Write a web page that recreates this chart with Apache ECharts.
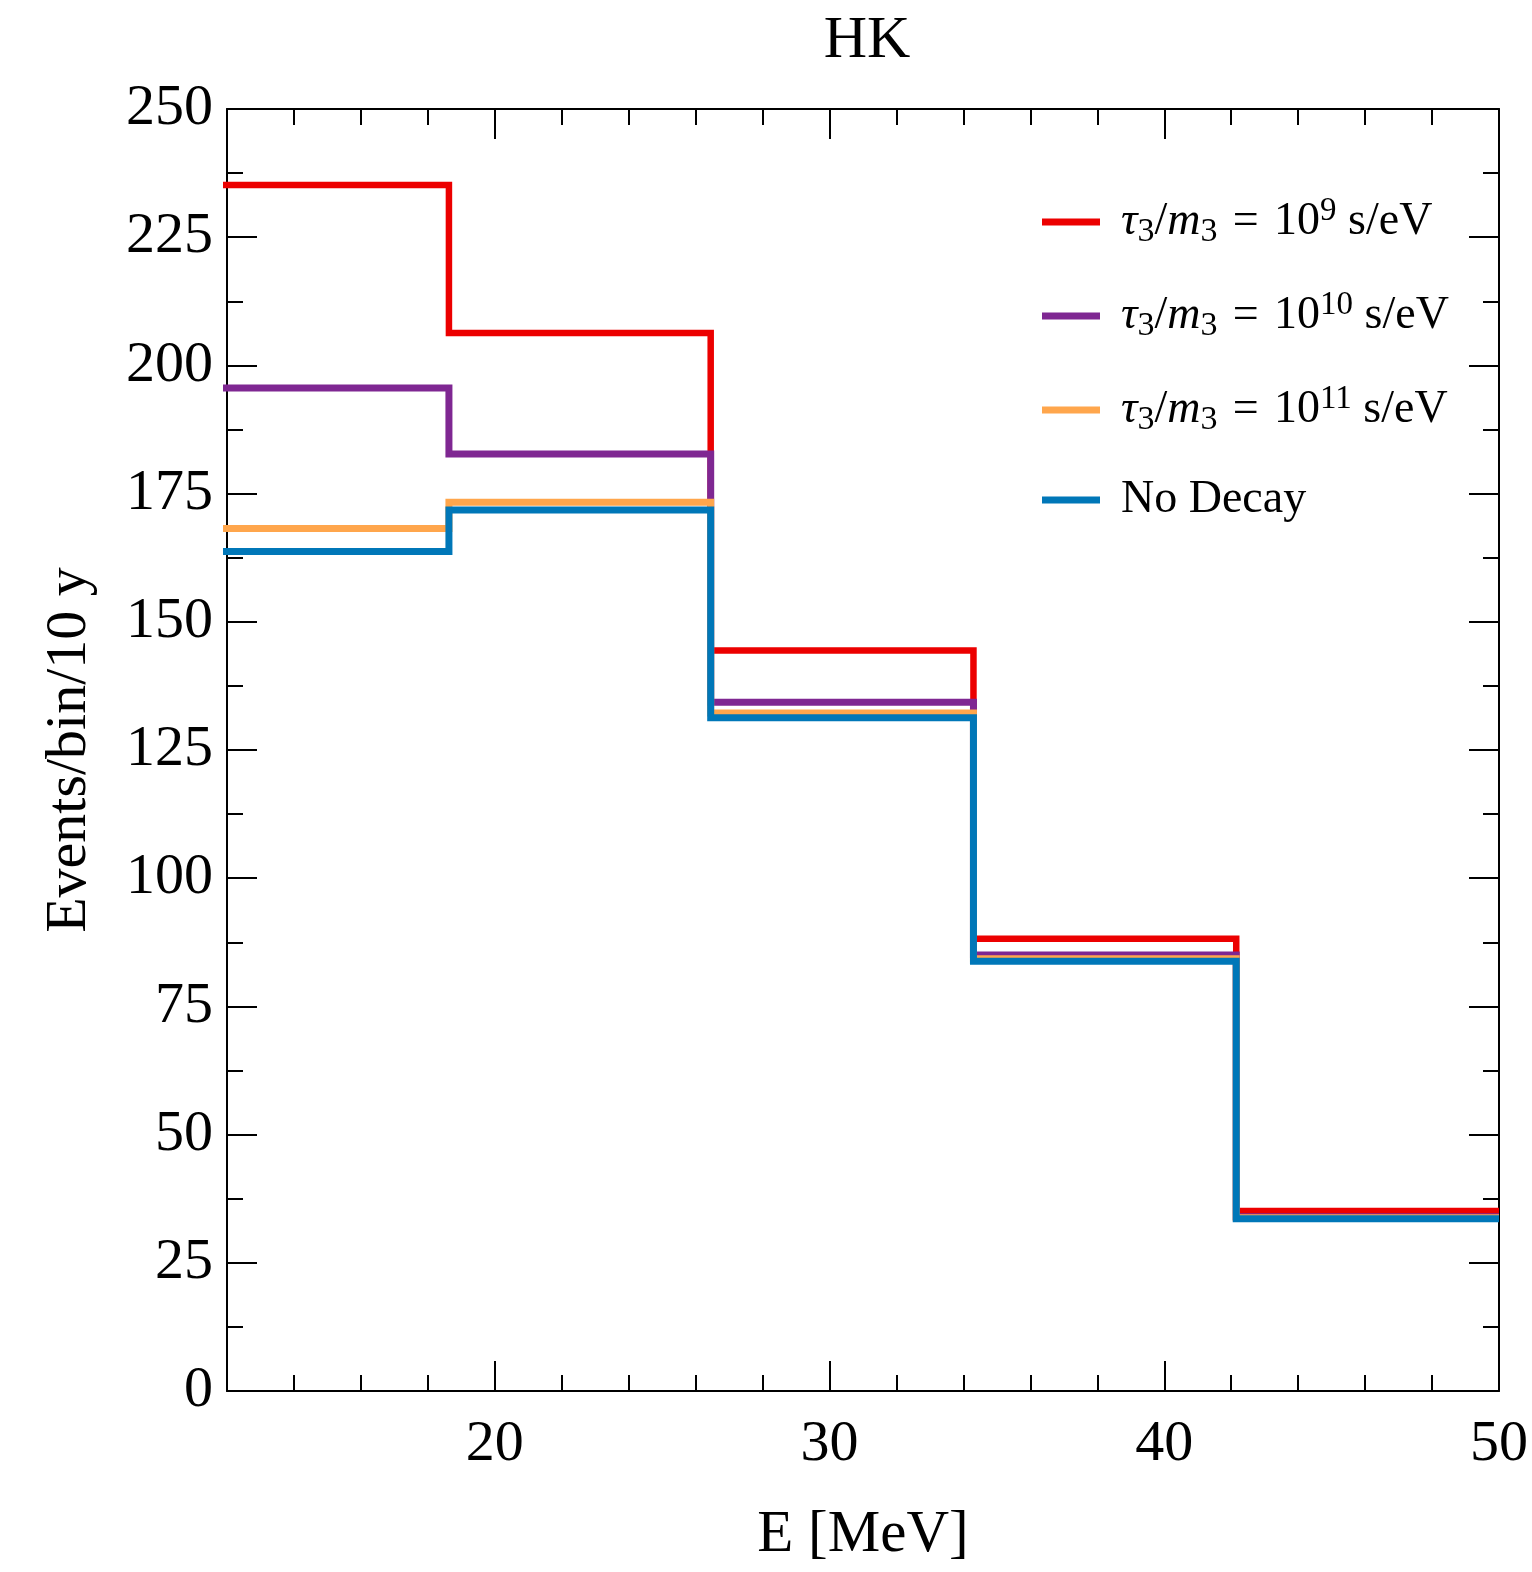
<!DOCTYPE html>
<html>
<head>
<meta charset="utf-8">
<title>HK</title>
<script src="https://cdn.jsdelivr.net/npm/echarts@6/dist/echarts.min.js"></script>
<style>
  html, body { margin: 0; padding: 0; background: #ffffff; }
  #chart { width: 1532px; height: 1572px; }
</style>
</head>
<body>
<div id="chart"></div>
<script>
// Energy bin edges [MeV]; the first bin extends past the left edge of the plot
const binEdges = [11.8, 18.63, 26.45, 34.3, 42.15, 50];

// Events per bin over 10 years for each neutrino decay scenario
const eventsTau9  = [235.2, 206.3, 144.4, 88.2, 35.1];
const eventsTau10 = [195.6, 182.7, 134.3, 85.0, 34.0];
const eventsTau11 = [168.2, 173.3, 132.2, 84.3, 33.8];
const eventsNoDecay = [163.7, 171.8, 131.3, 83.8, 33.6];

// Series names and the exponent shown in each legend entry
const seriesNames = ['tau9', 'tau10', 'tau11', 'nodecay'];
const exponents = ['9', '10', '11', null];
const seriesColors = ['#ec0000', '#7f2792', '#ffa64c', '#0077b8'];

// Labelled ticks
const yTicks = [0, 25, 50, 75, 100, 125, 150, 175, 200, 225, 250];
const xTicks = [20, 30, 40, 50];

const serif = 'Liberation Serif';
const eqGap = '\u2004';

// Histogram outline: one point at each bin's left edge plus the closing edge
function stepPoints(values) {
  return binEdges.map((x, i) => [x, values[Math.min(i, values.length - 1)]]);
}

function legendLabel(name) {
  const i = seriesNames.indexOf(name);
  if (exponents[i] === null) return '{n|No Decay}';
  return '{it|τ}{sub|3}{n|/}{it|m}{sub|3}{n|' + eqGap + '=' + eqGap + '10}{sup|' +
    exponents[i] + '}{n| s/eV}';
}

const allValues = [eventsTau9, eventsTau10, eventsTau11, eventsNoDecay];

const chart = echarts.init(document.getElementById('chart'), null, { renderer: 'canvas' });

const frameLine = { show: true, onZero: false, lineStyle: { color: '#000', width: 2 } };
const noLine = { show: false, onZero: false };
const tickStyle = { color: '#000', width: 2 };
const MAJOR = 30, MINOR = 16;

// Energy axes: short ticks every 2 MeV, long ticks at the labelled values
function energyAxis(position, withLabels, long) {
  const ax = {
    type: 'value', position: position, gridIndex: 0,
    min: 12, max: 50, interval: 2,
    axisLine: long ? noLine : frameLine,
    axisTick: long
      ? { show: true, inside: true, length: MAJOR, lineStyle: tickStyle, customValues: xTicks }
      : { show: true, inside: true, length: MINOR, lineStyle: tickStyle },
    axisLabel: { show: false },
    splitLine: { show: false }
  };
  if (withLabels) {
    ax.name = 'E [MeV]';
    ax.nameLocation = 'middle';
    ax.nameGap = 115;
    ax.nameTextStyle = { fontFamily: serif, fontSize: 59, color: '#000' };
    ax.axisLabel = {
      show: true, margin: 25, fontFamily: serif, fontSize: 58, color: '#000',
      formatter: v => xTicks.indexOf(v) >= 0 ? String(v) : ''
    };
  }
  return ax;
}

// Event axes: long ticks every 25, short ticks halfway between
function eventsAxis(position, withLabels, long) {
  const ax = {
    type: 'value', position: position, gridIndex: 0,
    min: 0, max: 250, interval: long ? 25 : 12.5,
    axisLine: long ? frameLine : noLine,
    axisTick: { show: true, inside: true, length: long ? MAJOR : MINOR, lineStyle: tickStyle },
    axisLabel: { show: false },
    splitLine: { show: false }
  };
  if (withLabels) {
    ax.name = 'Events/bin/10 y';
    ax.nameLocation = 'middle';
    ax.nameGap = 128;
    ax.nameTextStyle = { fontFamily: serif, fontSize: 58, color: '#000' };
    ax.axisLabel = {
      show: true, margin: 14, fontFamily: serif, fontSize: 58, color: '#000',
      formatter: v => yTicks.indexOf(v) >= 0 ? String(v) : ''
    };
  }
  return ax;
}

chart.setOption({
  animation: false,
  backgroundColor: '#ffffff',
  title: {
    text: 'HK',
    left: 862,
    top: 6,
    textAlign: 'center',
    textStyle: { fontFamily: serif, fontSize: 60, fontWeight: 'normal', color: '#000' }
  },
  grid: { left: 227, right: 33, top: 109, bottom: 181, containLabel: false },
  legend: {
    orient: 'vertical',
    left: 1037,
    top: 190,
    icon: 'rect',
    itemWidth: 58,
    itemHeight: 7,
    itemGap: 40,
    selectedMode: false,
    data: seriesNames,
    formatter: legendLabel,
    textStyle: {
      padding: [0, 0, 0, 16],
      rich: {
        n:   { fontFamily: serif, fontSize: 46, color: '#000', lineHeight: 54 },
        it:  { fontFamily: serif, fontSize: 46, fontStyle: 'italic', color: '#000', lineHeight: 54 },
        sub: { fontFamily: serif, fontSize: 34, color: '#000', lineHeight: 38, verticalAlign: 'bottom' },
        sup: { fontFamily: serif, fontSize: 33, color: '#000', lineHeight: 32, verticalAlign: 'top' }
      }
    }
  },
  xAxis: [
    energyAxis('bottom', true, false),
    energyAxis('top', false, false),
    energyAxis('bottom', false, true),
    energyAxis('top', false, true)
  ],
  yAxis: [
    eventsAxis('left', true, true),
    eventsAxis('right', false, true),
    eventsAxis('left', false, false),
    eventsAxis('right', false, false)
  ],
  series: seriesNames.map((name, i) => ({
    name: name,
    type: 'line',
    step: 'end',
    xAxisIndex: 0,
    yAxisIndex: 0,
    data: stepPoints(allValues[i]),
    showSymbol: false,
    symbol: 'none',
    clip: false,
    silent: true,
    z: 2 + i,
    color: seriesColors[i],
    lineStyle: { color: seriesColors[i], width: i === 0 ? 6.5 : 7, cap: 'butt', join: 'miter' },
    emphasis: { disabled: true }
  }))
});
</script>
</body>
</html>
